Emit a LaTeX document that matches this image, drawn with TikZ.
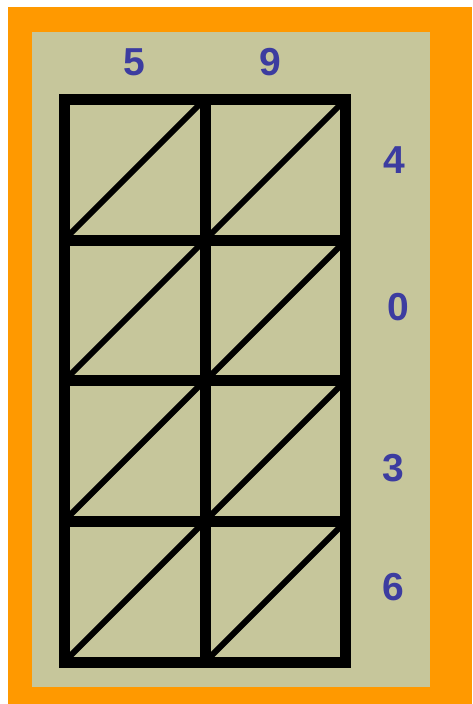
\documentclass[tikz,border=0pt]{standalone}
\usepackage{fontspec}
\setmainfont{Liberation Sans}
\usepackage{xcolor}
\definecolor{framecol}{RGB}{255,153,0}
\definecolor{paperol}{RGB}{198,198,155}
\definecolor{digitcol}{RGB}{60,60,160}
\tikzset{
  digit/.style={text=digitcol,font=\fontsize{39}{42}\selectfont\bfseries,inner sep=0pt},
  gridline/.style={line width=11pt,line cap=rect},
  diag/.style={line width=6pt}
}

\begin{document}
\begin{tikzpicture}[x=1pt,y=-1pt]
\useasboundingbox (0,0) rectangle (472,704);
\fill[white] (0,0) rectangle (472,704);
\fill[framecol] (8,7) rectangle (472,704);
\fill[paperol] (32,32) rectangle (430,687);
% diagonals of each cell
\foreach \cx in {64,205} {
  \foreach \cy in {99,240,380,521} {
    \draw[diag] (\cx,\cy+141) -- (\cx+141,\cy);
  }
}
% lattice
\foreach \gx in {64,205,345} \draw[gridline] (\gx,99) -- (\gx,662);
\foreach \gy in {99,240,380,521,662} \draw[gridline] (64,\gy) -- (345,\gy);
% factors
\node[digit] (top5) at (134,62) {5};
\node[digit] (top9) at (270,62) {9};
\node[digit] (side4) at (394,160) {4};
\node[digit] (side0) at (398,307) {0};
\node[digit] (side3) at (393,468) {3};
\node[digit] (side6) at (393,587) {6};
\end{tikzpicture}
\end{document}
